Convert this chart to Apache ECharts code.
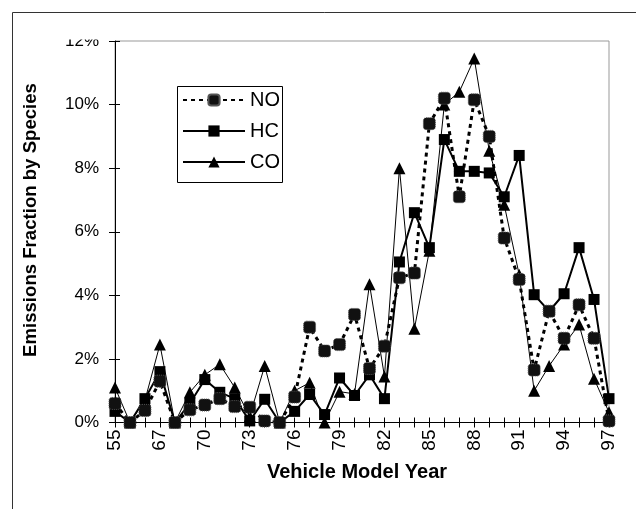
<!DOCTYPE html>
<html><head><meta charset="utf-8">
<script src="https://cdn.jsdelivr.net/npm/echarts@6/dist/echarts.min.js"></script>
<style>html,body{margin:0;padding:0;background:#fff}#c{width:636px;height:509px}</style>
</head><body><div id="c"></div>
<script>
const years = ['55','65','66','67','68','69','70','71','72','73','74','75','76','77','78','79','80','81','82','83','84','85','86','87','88','89','90','91','92','93','94','95','96','97'];
const noValues = [0.6, 0, 0.38, 1.3, 0, 0.4, 0.55, 0.75, 0.5, 0.48, 0.05, 0, 0.8, 3.0, 2.25, 2.45, 3.4, 1.7, 2.4, 4.55, 4.7, 9.4, 10.2, 7.1, 10.15, 9.0, 5.8, 4.5, 1.65, 3.5, 2.65, 3.7, 2.65, 0.05];
const hcValues = [0.35, 0, 0.75, 1.6, 0, 0.6, 1.35, 0.95, 0.75, 0.05, 0.73, 0, 0.35, 0.88, 0.25, 1.4, 0.85, 1.5, 0.75, 5.05, 6.6, 5.5, 8.9, 7.9, 7.9, 7.85, 7.1, 8.4, 4.02, 3.5, 4.05, 5.5, 3.87, 0.75];
const coValues = [1.1, 0, 0.7, 2.45, 0, 0.95, 1.5, 1.83, 1.1, 0.2, 1.78, 0, 1.0, 1.25, 0, 0.97, 0.9, 4.35, 1.45, 8.0, 2.95, 5.4, 10.0, 10.4, 11.45, 8.55, 6.85, 4.65, 1.0, 1.78, 2.45, 3.08, 1.38, 0.32];
const yMin = 0, yMax = 12, yStep = 2;

const FONT = "'Liberation Sans', Arial, sans-serif";
const chart = echarts.init(document.getElementById('c'), null, {renderer: 'canvas'});
chart.setOption({
  animation: false,
  backgroundColor: '#fff',
  grid: {left: 115, right: 27, top: 41, bottom: 86.5, show: true, borderColor: '#999', borderWidth: 1, backgroundColor: 'transparent'},
  legend: {
    orient: 'vertical', left: 182, top: 90, padding: 0, itemWidth: 62, itemHeight: 14, itemGap: 11,
    textStyle: {fontSize: 20, color: '#000', fontFamily: FONT},
    data: ['NO', 'HC', 'CO']
  },
  xAxis: [{
    type: 'category', data: years, boundaryGap: false,
    axisLine: {lineStyle: {color: '#000', width: 1}},
    axisTick: {show: true, interval: 0, length: 5, lineStyle: {color: '#000'}},
    axisLabel: {interval: 2, rotate: 90, margin: 7, fontSize: 19, color: '#000', fontFamily: FONT},
    name: 'Vehicle Model Year', nameLocation: 'middle', nameGap: 40,
    nameTextStyle: {fontWeight: 'bold', fontSize: 20, color: '#000', fontFamily: FONT, padding: [0, 10, 0, 0]},
    splitLine: {show: false}
  }, {
    type: 'category', data: years, boundaryGap: false, position: 'bottom',
    axisLine: {show: false},
    axisTick: {show: true, interval: 0, inside: true, length: 5, lineStyle: {color: '#000'}},
    axisLabel: {show: false}, splitLine: {show: false}
  }],
  yAxis: [{
    type: 'value', min: yMin, max: yMax, interval: yStep,
    axisLine: {show: true, lineStyle: {color: '#000'}},
    axisTick: {show: true, length: 6, lineStyle: {color: '#000'}},
    axisLabel: {formatter: '{value}%', margin: 16, fontSize: 17, color: '#000', fontFamily: FONT},
    splitLine: {show: false}
  }, {
    type: 'value', min: yMin, max: yMax, interval: yStep, position: 'left',
    axisLine: {show: false},
    axisTick: {show: true, inside: true, length: 5, lineStyle: {color: '#000'}},
    axisLabel: {show: false}, splitLine: {show: false}
  }],
  series: [{
    name: 'NO', type: 'line', data: noValues, showAllSymbol: true,
    symbol: 'roundRect', symbolSize: 12, z: 4,
    itemStyle: {color: '#111', borderColor: '#555', borderWidth: 1, borderType: 'dotted'},
    lineStyle: {color: '#000', width: 3, type: [4, 4]}
  }, {
    name: 'HC', type: 'line', data: hcValues, showAllSymbol: true,
    symbol: 'rect', symbolSize: 11, z: 3,
    itemStyle: {color: '#000'},
    lineStyle: {color: '#000', width: 2}
  }, {
    name: 'CO', type: 'line', data: coValues, showAllSymbol: true,
    symbol: 'triangle', symbolSize: 12, z: 2,
    itemStyle: {color: '#000'},
    lineStyle: {color: '#000', width: 1}
  }],
  graphic: [
    {type: 'rect', z: 100, shape: {x: 55, y: 14, width: 56, height: 25.5}, style: {fill: '#fff'}},
    {type: 'rect', z: 101, shape: {x: 12.5, y: 12.5, width: 700, height: 600}, style: {fill: 'none', stroke: '#333', lineWidth: 1}},
    {type: 'rect', z: 101, shape: {x: 177.5, y: 86.5, width: 105, height: 96}, style: {fill: 'none', stroke: '#000', lineWidth: 1}},
    {type: 'text', z: 101, x: 31, y: 220, rotation: Math.PI / 2,
     style: {text: 'Emissions Fraction by Species', fontSize: 18.6, fontWeight: 'bold', fontFamily: FONT, fill: '#000', align: 'center', verticalAlign: 'middle'}}
  ]
});
</script>
</body></html>
